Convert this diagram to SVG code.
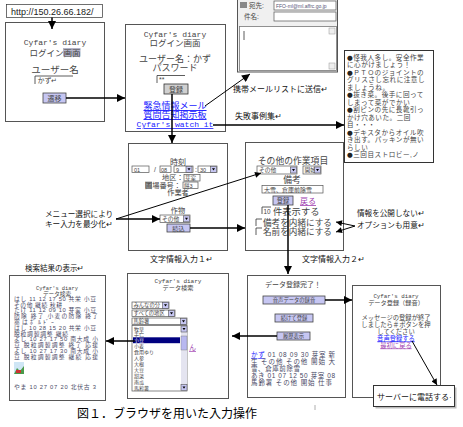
<svg xmlns="http://www.w3.org/2000/svg" width="463" height="427" viewBox="0 0 463 427">
<defs>
<style>
.box{fill:#fff;stroke:#555;stroke-width:1}
.t{font-family:"Liberation Sans","Noto Sans CJK JP",sans-serif;fill:#444}
.m{font-family:"Liberation Mono","Noto Sans CJK JP",monospace;fill:#444}
.lb{font-family:"Liberation Sans","Noto Sans CJK JP",sans-serif;fill:#111}
.bu{font-family:"DejaVu Sans",sans-serif;fill:#222}
.c{text-anchor:middle}
.lk{fill:#1a1aff;text-decoration:underline}
.vl{fill:#a040b0;text-decoration:underline}
.btn{fill:#c6c6f2;stroke:#444;stroke-width:.8}
.gbtn{fill:#d0d0d0;stroke:#333;stroke-width:.8}
.fld{fill:#fff;stroke:#555;stroke-width:.7}
.dd{fill:#c6c6f2;stroke:#555;stroke-width:.6}
.ln{fill:none;stroke:#333;stroke-width:.8}
.conn path{stroke:#000;fill:none}
.thick{stroke-width:1.5}
.thin{stroke-width:1}
</style>
<marker id="ah" viewBox="0 0 10 10" refX="10" refY="5" markerWidth="9" markerHeight="8" markerUnits="userSpaceOnUse" orient="auto"><path d="M0,0 L10,5 L0,10 z" fill="#000"/></marker>
<marker id="ahs" viewBox="0 0 10 10" refX="10" refY="5" markerWidth="7" markerHeight="6" markerUnits="userSpaceOnUse" orient="auto"><path d="M0,0 L10,5 L0,10 z" fill="#000"/></marker>
<g id="ddb"><rect class="dd" width="6" height="6"/><path d="M1.5,2 L4.5,2 L3,4.2 z" fill="#000"/></g>
</defs>
<rect width="463" height="427" fill="#fff"/>

<g id="url">
<rect class="fld" x="6.5" y="4.5" width="96" height="13" style="stroke:#333"/>
<text x="11" y="14.5" font-family="Liberation Sans" font-size="9" fill="#222">http://150.26.66.182/</text>
</g>

<g id="login-start">
<rect class="box" x="5.5" y="22.5" width="99" height="99"/>
<text class="m c" x="55" y="45" font-size="8">Cyfar's diary</text>
<rect x="63" y="48" width="17.5" height="8.5" fill="#b4b4c8"/>
<text class="t c" x="55" y="55.5" font-size="8.5">ログイン画面</text>
<text class="t c" x="55" y="73" font-size="9.5">ユーザー名</text>
<polyline class="ln" points="35,84 35,76 73,76"/>
<text class="t" x="37.5" y="83" font-size="7">かず↵</text>
<rect class="btn" x="43" y="93" width="23" height="10"/>
<text class="t c" x="54.5" y="100.8" font-size="7">遷移</text>
</g>

<g id="login-screen">
<rect class="box" x="125.5" y="24.5" width="100" height="107"/>
<text class="m c" x="175" y="36.5" font-size="8">Cyfar's diary</text>
<text class="t c" x="175" y="46" font-size="8.5">ログイン画面</text>
<text class="t c" x="175" y="62" font-size="9">ユーザー名：かず</text>
<text class="t c" x="175" y="71" font-size="9">パスワード</text>
<polyline class="ln" points="157,83 157,75.5 185,75.5"/>
<text class="t" x="159" y="82" font-size="7">**</text>
<rect class="gbtn" x="164" y="84" width="24" height="10"/>
<text class="t c" x="176" y="91.8" font-size="7">登録</text>
<text class="t c lk" x="175" y="109" font-size="9">緊急情報メール</text>
<text class="t c lk" x="175" y="118" font-size="9">質問告知掲示板</text>
<text class="m c lk" x="175" y="127" font-size="8">Cyfar's watch it</text>
</g>

<g id="mail-form">
<rect x="237.5" y="-1" width="100" height="73" fill="#f0f0f0" stroke="#555"/>
<rect x="240" y="2" width="7" height="6" fill="#888"/>
<text class="t" x="249" y="8" font-size="6.5">宛先:</text>
<rect class="fld" x="274" y="1" width="62" height="9"/>
<text x="276" y="8" font-family="Liberation Sans" font-size="5" fill="#557">FFO-ml@ml.affrc.go.jp</text>
<text class="t" x="244" y="19" font-size="6.5">件名:</text>
<rect class="fld" x="274" y="12" width="62" height="9"/>
<rect x="239.5" y="26.5" width="97" height="44" fill="#fff" stroke="#777" stroke-width=".8"/>
<rect x="329" y="28" width="6" height="6" fill="#eee" stroke="#999" stroke-width=".5"/>
<rect x="329" y="63" width="6" height="6" fill="#eee" stroke="#999" stroke-width=".5"/>
<line x1="244" y1="31" x2="244" y2="40" stroke="#333" stroke-width=".8"/>
</g>

<g id="notes">
<rect x="344.5" y="50.5" width="89" height="112" fill="#fff" stroke="#333"/>
<g class="t" font-size="6.6" letter-spacing=".5">
<text x="347" y="59.5"><tspan class="bu">●</tspan>怪我人多し。安全作業</text>
<text x="347" y="67">に心がけましょう！</text>
<text x="347" y="74.5"><tspan class="bu">●</tspan>ＰＴＯのジョイントの</text>
<text x="347" y="82">グリスさし忘れに注意し</text>
<text x="347" y="89.5">ましょうね。</text>
<text x="347" y="97"><tspan class="bu">●</tspan>抜き菜。後手に回って</text>
<text x="347" y="104.5">しまって菜がでかい</text>
<text x="347" y="112"><tspan class="bu">●</tspan>割ピンの先に長靴引っ</text>
<text x="347" y="119.5">かけ穴あいた。二回</text>
<text x="347" y="127">目・・・</text>
<text x="347" y="134.5"><tspan class="bu">●</tspan>デキスタからオイル吹</text>
<text x="347" y="142">き出す。パッキンが無い</text>
<text x="347" y="149.5">らしい</text>
<text x="347" y="157"><tspan class="bu">●</tspan>三回目ストロビー,ノ</text>
</g>
</g>

<g id="input1">
<rect class="box" x="128.5" y="143.5" width="99" height="107"/>
<text class="t c" x="178" y="164.5" font-size="8">時刻</text>
<rect class="fld" x="132" y="166" width="17" height="6.5"/>
<text class="t" x="134" y="171.5" font-size="5.5">01</text>
<text class="t" x="154" y="172" font-size="7">/</text>
<rect class="fld" x="160" y="166" width="11" height="6.5"/>
<text class="t" x="161" y="171.5" font-size="5.5">08</text>
<rect class="fld" x="174" y="166" width="19" height="6.5"/>
<text class="t" x="176" y="171.5" font-size="5.5">9</text>
<use href="#ddb" x="186" y="166.3"/>
<text class="t" x="195" y="172" font-size="7">:</text>
<rect class="fld" x="198" y="166" width="19" height="6.5"/>
<text class="t" x="200" y="171.5" font-size="5.5">30</text>
<use href="#ddb" x="210.5" y="166.3"/>
<text class="t" x="162" y="180" font-size="7.2">地区：</text>
<rect class="fld" x="184" y="174.5" width="16" height="6.5"/>
<text class="t" x="185" y="180" font-size="5.5">芽室</text>
<rect x="145" y="181.5" width="7" height="7" fill="#aaa"/>
<text class="t" x="145" y="187.5" font-size="7.2">圃場番号：</text>
<rect class="fld" x="183" y="182" width="15" height="6.5"/>
<text class="t" x="184" y="187.5" font-size="5.5">餅3</text>
<text class="t c" x="178" y="195" font-size="7.2">作業者</text>
<text class="t c" x="178" y="212.5" font-size="7.2">作物</text>
<rect class="fld" x="160" y="215" width="30" height="7.5"/>
<text class="t" x="162" y="221" font-size="5.8">その他</text>
<use href="#ddb" x="183.5" y="215.8"/>
<rect class="btn" x="167" y="224" width="23" height="8"/>
<text class="t c" x="178.5" y="230.5" font-size="6.2">読込</text>
</g>
<text class="lb" x="150" y="262" font-size="8">文字情報入力１↵</text>

<g id="input2">
<rect class="box" x="245.5" y="142.5" width="98" height="108"/>
<text class="t c" x="293" y="163.5" font-size="8.8">その他の作業項目</text>
<rect class="fld" x="257" y="166" width="40" height="8"/>
<text class="t" x="259" y="172.3" font-size="5.8">その他</text>
<use href="#ddb" x="290.5" y="167"/>
<rect class="fld" x="303" y="166" width="18" height="8"/>
<text class="t" x="304.5" y="172.3" font-size="5.8">開始</text>
<use href="#ddb" x="314.5" y="167"/>
<text class="t c" x="292" y="183" font-size="8.8">備考</text>
<rect class="fld" x="262" y="185.5" width="61" height="7.5"/>
<text class="t" x="264" y="191.5" font-size="6">大雪、倉庫前除雪</text>
<rect class="btn" x="273" y="196" width="20" height="9"/>
<text class="t c" x="283" y="203" font-size="6.3">登録</text>
<text class="t vl" x="300" y="204" font-size="8">戻る</text>
<polyline class="ln" points="262,214 262,207 271,207"/>
<text class="t" x="263.5" y="213.5" font-size="6.3">10</text>
<text class="t" x="273" y="215" font-size="9.3">件表示する</text>
<polyline class="ln" points="256,226 256,219 262,219"/>
<text class="t" x="263" y="225.5" font-size="8.6">備考を内緒にする</text>
<polyline class="ln" points="256,235 256,228 262,228"/>
<text class="t" x="263" y="234.5" font-size="8.6">名前を内緒にする</text>
</g>
<text class="lb" x="302" y="262" font-size="8">文字情報入力２↵</text>

<g id="labels">
<text class="lb" x="233" y="92" font-size="8">携帯メールリストに送信↵</text>
<text class="lb" x="235" y="119" font-size="8">失敗事例集↵</text>
<text class="lb" x="45" y="217" font-size="7.6">メニュー選択により</text>
<text class="lb" x="45" y="227" font-size="7.6">キー入力を最少化↵</text>
<text class="lb" x="357" y="216" font-size="7.6">情報を公開しない↵</text>
<text class="lb" x="357" y="228" font-size="7.6">オプションも用意↵</text>
<text class="lb" x="25" y="271" font-size="7.5">検索結果の表示↵</text>
</g>

<g id="results">
<rect class="box" x="9.5" y="275.5" width="96" height="125"/>
<text class="m c" x="57" y="289.5" font-size="5.4">Cyfar's diary</text>
<text class="t c" x="57" y="295.5" font-size="5.6">データ検索</text>
<g class="t" font-size="5.8" style="fill:#4a4a66">
<text x="14" y="300.8" textLength="82">はし 11 12 17 50 共栄 小豆</text>
<text x="14" y="306.6" textLength="48">その他 継続 秋耕</text>
<text x="14" y="312.4" textLength="82">たけ 11 12 09 10 芽室 小豆</text>
<text x="14" y="318.2" textLength="84">防除 終了 小麦の防除 終了</text>
<text x="14" y="324" textLength="40">薬はﾎﾞﾙﾄﾞｰ</text>
<text x="14" y="329.8" textLength="82">はし 10 28 15 20 共栄 小豆</text>
<text x="14" y="335.6" textLength="54">脱粒調製調整 継続</text>
<text x="14" y="341.4" textLength="84">よし 10 27 17 50 南大成 小</text>
<text x="14" y="347.2" textLength="84">豆 脱粒調製調整 終了 応援</text>
<text x="14" y="353" textLength="84">よし 10 27 17 30 南大成 小</text>
<text x="14" y="358.8" textLength="84">豆 脱粒調製調整 継続 応援</text>
<text x="14" y="388.5" textLength="82">やま 10 27 07 20 北伏古 3</text>
</g>
<rect x="14" y="362" width="10" height="12" fill="#cfe6f5"/>
<path d="M14,374 L17,368 L20,371 L24,366 L24,374 z" fill="#4a9a4a"/>
<rect x="16" y="370" width="5" height="3" fill="#c33"/>
</g>

<g id="search">
<rect class="box" x="127.5" y="273.5" width="101" height="125"/>
<text class="m c" x="178" y="283" font-size="6">Cyfar's diary</text>
<text class="t c" x="178" y="290" font-size="6.2">データ検索</text>
<rect class="fld" x="132" y="302" width="37" height="6.5"/>
<text class="t" x="133.5" y="307.3" font-size="5.3">みんなの分</text>
<use href="#ddb" x="162.5" y="302.3"/>
<rect class="fld" x="132" y="310" width="43" height="6.5"/>
<text class="t" x="133.5" y="315.3" font-size="5.3">すべての地区</text>
<use href="#ddb" x="168.5" y="310.3"/>
<rect class="fld" x="132" y="318" width="55" height="6.5"/>
<text class="t" x="133.5" y="323.3" font-size="5.3">馬鈴薯</text>
<use href="#ddb" x="180.5" y="318.3"/>
<rect class="fld" x="132" y="325.5" width="55" height="65.5"/>
<rect x="133" y="337.3" width="47" height="5.9" fill="#000080"/>
<rect x="181" y="326" width="6" height="64.5" fill="#e4e4f0"/>
<rect x="181" y="336" width="6" height="14" fill="#b8b8f0" stroke="#777" stroke-width=".4"/>
<use href="#ddb" x="181" y="326"/>
<use href="#ddb" x="181" y="384.5"/>
<g class="t" font-size="5">
<text x="134" y="330.5">牧草</text>
<text x="134" y="336.4">手亡</text>
<text x="134" y="342.3" style="fill:#fff">小豆</text>
<text x="134" y="348.2">小麦</text>
<text x="134" y="354.1">食用ゆり</text>
<text x="134" y="360">人参</text>
<text x="134" y="365.9">大根</text>
<text x="134" y="371.8">大豆</text>
<text x="134" y="377.7">甜菜</text>
<text x="134" y="383.6">南瓜</text>
<text x="134" y="389.5">馬鈴薯</text>
</g>
<text class="t vl" x="189" y="350" font-size="7">ん</text>
</g>

<g id="done">
<rect class="box" x="247.5" y="275.5" width="98" height="122"/>
<text class="t c" x="293" y="287" font-size="7">データ登録完了！</text>
<rect class="btn" x="263" y="296" width="62" height="8"/>
<text class="t c" x="294" y="302.3" font-size="5.3">音声データの録音</text>
<rect class="btn" x="275" y="314" width="38" height="8"/>
<text class="t c" x="294" y="320.3" font-size="5.3">続けて登録</text>
<rect class="btn" x="277" y="332" width="33" height="8"/>
<text class="t c" x="293.5" y="338.3" font-size="5.3">履歴表示</text>
<g class="t" font-size="6.5" style="fill:#4a4a66">
<text x="251" y="357" textLength="84"><tspan class="lk">かず</tspan> 01 08 09 30 芽室 新</text>
<text x="251" y="364" textLength="84">生 その他 その他 開始 大</text>
<text x="251" y="371" textLength="49">雪、倉庫前除雪</text>
<text x="251" y="378" textLength="84">あき 01 07 12 50 芽室 08</text>
<text x="251" y="385" textLength="81">馬鈴薯 その他 開始 仕事</text>
</g>
</g>

<g id="voice">
<rect class="box" x="352.5" y="285.5" width="88" height="112"/>
<text class="m c" x="396" y="297.5" font-size="5.8">Cyfar's diary</text>
<text class="t c" x="396" y="304.5" font-size="6.2">データ登録（録音）</text>
<text class="t c" x="396" y="320" font-size="6.3">メッセージの登録が終了</text>
<text class="t c" x="396" y="327" font-size="6.3">しましたら＃ボタンを押</text>
<text class="t c" x="396" y="333.7" font-size="6.3">してください</text>
<text class="t c lk" x="396" y="340.5" font-size="6.3">音声登録する</text>
<text class="t c vl" x="396" y="347.5" font-size="6.3">最初に戻る</text>
</g>

<g id="server">
<rect x="375.5" y="387.5" width="81" height="21" fill="#bbb"/>
<rect x="373.5" y="385.5" width="81" height="21" fill="#fff" stroke="#333"/>
<text class="lb" x="377" y="400" font-size="8">サーバーに電話する·</text>
</g>

<g class="conn" id="connectors">
<path class="thick" d="M52,17.5 L52,29" marker-end="url(#ah)"/>
<path class="thick" d="M66,98 L125,98" marker-end="url(#ah)"/>
<path class="thick" d="M172,94 L172,143" marker-end="url(#ah)"/>
<path class="thin" d="M205,106 L250,74" marker-end="url(#ah)"/>
<path class="thick" d="M213,125 L344,125" marker-end="url(#ah)"/>
<path class="thick" d="M116,219 L160,219" marker-end="url(#ah)"/>
<path class="thin" d="M116,219 L261,173" marker-end="url(#ahs)"/>
<path class="thick" d="M190,228 L245,228" marker-end="url(#ah)"/>
<path class="thin" d="M355,226 L336,222" marker-end="url(#ahs)"/>
<path class="thin" d="M355,226 L336,232" marker-end="url(#ahs)"/>
<path class="thick" d="M288,205 L288,274" marker-end="url(#ah)"/>
<path class="thick" d="M325,300 L352,300" marker-end="url(#ah)"/>
<path class="thick" d="M277,336 L232,336" marker-end="url(#ah)"/>
<path class="thick" d="M135,341 L106,341" marker-end="url(#ah)"/>
<path class="thin" d="M412,341 L437,385" marker-end="url(#ahs)"/>
</g>

<line x1="315" y1="405" x2="315" y2="410" stroke="#999" stroke-width=".8"/>
<text class="lb" x="77" y="418" font-size="12" style="fill:#000">図１．ブラウザを用いた入力操作</text>
</svg>
